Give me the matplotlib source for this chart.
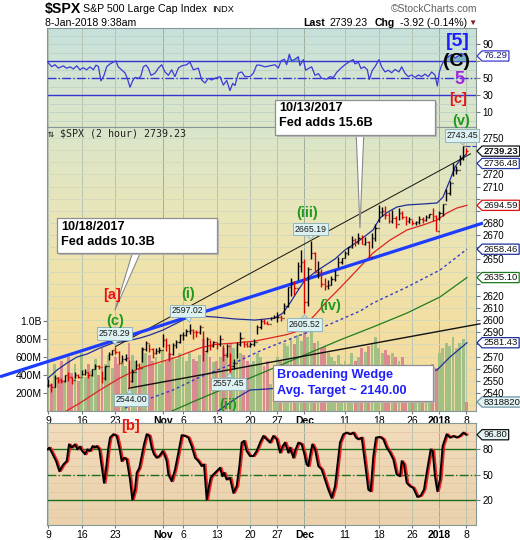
import numpy as np
import matplotlib
matplotlib.use('Agg')
import matplotlib.pyplot as plt
import matplotlib.transforms as mtransforms
from matplotlib.colors import LinearSegmentedColormap
from matplotlib.patches import Rectangle
from matplotlib.path import Path

plt.rcParams['font.family'] = ['Liberation Sans', 'DejaVu Sans']

W, H = 520, 540

# x axis: trading-day index, 0 = 9-Oct-2017
tick_days = [0, 5, 10, 17, 20, 25, 30, 34, 38, 44, 49, 54, 58, 62]
tick_labels = ['9', '16', '23', 'Nov', '6', '13', '20', '27', 'Dec', '11', '18', '26', '2018', '8']
month_ticks = ['Nov', 'Dec', '2018']

# price bars, two per session (last one = 8-Jan morning)
bar_lo = [2545, 2541, 2545, 2548, 2548, 2549, 2550, 2547.2, 2552.1, 2552,
          2554.6, 2555, 2552, 2554, 2559.4, 2559.5, 2547.9, 2551, 2567, 2571,
          2572, 2564.3, 2565.6, 2566, 2544, 2549, 2559.8, 2559.8, 2565.9, 2575,
          2574, 2568.7, 2572.3, 2573, 2578, 2574.9, 2566.2, 2571, 2576.8, 2581,
          2584, 2587, 2589, 2584.4, 2586, 2589, 2566.1, 2574, 2575.6, 2578,
          2576, 2579, 2566.6, 2570, 2557.45, 2560, 2569.2, 2579, 2578, 2577.7,
          2578.2, 2579, 2588.4, 2593, 2596.5, 2596.5, 2600.5, 2601.5, 2598.9, 2599,
          2605.4, 2611, 2620.3, 2621, 2633.1, 2640, 2605.52, 2612, 2650, 2639,
          2635, 2627.7, 2624.75, 2626, 2628.7, 2632, 2644.1, 2646, 2651.5, 2654,
          2659.8, 2661, 2663, 2662.85, 2662, 2652, 2659.1, 2665, 2680.7, 2686,
          2683, 2680.3, 2680, 2676.1, 2682.4, 2683, 2678.1, 2680, 2678, 2678,
          2678.9, 2680, 2681.9, 2684, 2682, 2673.6, 2682.4, 2686, 2697.8, 2703,
          2719.1, 2720, 2727.9, 2732, 2736.5]
bar_hi = [2551.8, 2548, 2555.2, 2553, 2552, 2555.2, 2557, 2553, 2557.6, 2556,
          2559, 2559.7, 2557, 2559.7, 2564.1, 2563, 2558, 2562.4, 2574, 2575.4,
          2578.29, 2575, 2571, 2572.2, 2567.4, 2560, 2567.1, 2565, 2578, 2583,
          2580, 2577, 2577, 2578.1, 2588.4, 2585, 2580, 2581.1, 2584, 2588.4,
          2590, 2593, 2597.02, 2593, 2592, 2596, 2591.4, 2586, 2583.5, 2583,
          2582, 2587.7, 2579.7, 2580, 2572.7, 2568, 2582, 2590.4, 2583, 2582,
          2582, 2584.6, 2596, 2601.2, 2600.9, 2599, 2603, 2604.2, 2606.4, 2604,
          2614, 2627.7, 2634.9, 2632, 2648, 2657.7, 2650.6, 2644, 2665.19, 2656,
          2648.7, 2642, 2634.4, 2633, 2636, 2641, 2651.65, 2651.6, 2657, 2660.3,
          2669.7, 2668, 2671.9, 2670, 2668.1, 2665, 2672, 2679.6, 2694.97, 2693,
          2694.2, 2689, 2691, 2686, 2692.6, 2690, 2685.4, 2685, 2682.7, 2682,
          2685.6, 2685, 2687, 2687.7, 2692.1, 2687, 2690, 2695.9, 2708, 2714.4,
          2729.3, 2727, 2736, 2743.45, 2742]
bar_close = [2547, 2544.7, 2552, 2550.6, 2550, 2555.2, 2553, 2550.9, 2555, 2553.2,
             2556, 2557.6, 2555, 2559.4, 2562, 2561.3, 2552, 2562.1, 2572, 2575.2,
             2574, 2565, 2568, 2569.1, 2550, 2557.2, 2563, 2560.4, 2576, 2581.1,
             2576, 2572.8, 2575, 2575.3, 2584, 2579.4, 2572, 2579.9, 2582, 2587.8,
             2588, 2591.1, 2592, 2590.6, 2590, 2594.4, 2575, 2584.6, 2579, 2582.3,
             2580, 2584.8, 2571, 2578.9, 2562, 2564.6, 2580, 2585.6, 2580, 2578.85,
             2580, 2582.1, 2594, 2599, 2598, 2597.1, 2602, 2602.4, 2603, 2601.4,
             2612, 2627, 2631, 2626.1, 2645, 2647.6, 2615, 2642.2, 2655, 2639.4,
             2640, 2629.6, 2628, 2629.3, 2634, 2637, 2648, 2651.5, 2655, 2660,
             2666, 2664.1, 2668, 2662.85, 2664, 2652, 2668, 2675.8, 2689, 2690.2,
             2687, 2681.5, 2684, 2679.25, 2688, 2684.6, 2682, 2683.3, 2680, 2680.5,
             2683, 2682.6, 2685, 2687.5, 2686, 2673.6, 2688, 2695.8, 2705, 2713.1,
             2724, 2724, 2733, 2743.2, 2739.23]
volume_m = [480, 300, 520, 380, 560, 350, 600, 420, 520, 330,
            640, 380, 520, 450, 580, 400, 700, 520, 620, 480,
            600, 520, 560, 500, 760, 620, 560, 480, 700, 640,
            620, 560, 600, 520, 680, 560, 640, 600, 580, 640,
            600, 560, 640, 580, 560, 620, 800, 650, 600, 540,
            560, 600, 700, 640, 760, 700, 720, 640, 620, 560,
            520, 560, 640, 600, 500, 560, 300, 280, 600, 560,
            760, 720, 800, 740, 840, 780, 900, 820, 880, 760,
            780, 700, 720, 640, 600, 560, 620, 520, 560, 520,
            640, 560, 600, 700, 660, 720, 760, 820, 700, 640,
            680, 620, 640, 600, 560, 600, 480, 440, 420, 400,
            440, 420, 380, 400, 520, 480, 640, 700, 760, 720,
            820, 700, 760, 800, 100]

# overlays in the price panel (day, price)
ma_navy_day = [-0.15, 1.33, 2.81, 4.30, 5.78, 7.70, 9.63, 11.70, 13.63, 15.11,
               17.04, 18.81, 20.59, 22.52, 24.74, 27.70, 30.67, 33.63, 34.81, 35.85,
               36.89, 38.07, 40.00, 42.52, 44.00, 46.22, 48.15, 49.19, 50.37, 51.70,
               53.19, 55.56, 57.63, 58.52, 59.56, 60.30, 61.04, 61.93]
ma_navy_val = [2551.5, 2558.9, 2564.7, 2569.7, 2572.1, 2577.1, 2581.2, 2582.8, 2585.3, 2587.8,
               2591.9, 2596.8, 2601.8, 2603.4, 2602.6, 2601.0, 2600.1, 2601.8, 2605.9, 2614.1,
               2623.2, 2633.1, 2641.3, 2650.4, 2657.8, 2666.0, 2674.3, 2684.2, 2689.1, 2693.2,
               2694.9, 2695.7, 2696.5, 2701.4, 2715.5, 2726.2, 2731.9, 2736.5]
ma_red_day = [2.52, 4.74, 7.70, 10.67, 13.63, 16.15, 19.11, 22.52, 24.74, 27.70, 30.67, 35.11, 36.59,
              38.07, 39.56, 41.48, 43.26, 45.78, 48.15, 50.67, 53.19, 55.56, 57.63, 59.11, 60.59, 62.07]
ma_red_val = [2524.6, 2531.8, 2542.5, 2552.4, 2560.6, 2564.7, 2569.7, 2577.1, 2580.0, 2581.2, 2582.8,
              2587.8, 2590.2, 2596.0, 2604.3, 2616.6, 2626.5, 2641.3, 2655.3, 2666.0, 2674.3, 2678.4,
              2682.5, 2688.3, 2692.4, 2694.6]
ma_dot_day = [11.40, 13.63, 18.52, 22.52, 26.96, 31.70, 36.59, 41.48, 46.22, 48.15, 53.19, 58.07, 62.07]
ma_dot_val = [2527.6, 2532.6, 2542.5, 2553.2, 2563.1, 2575.4, 2586.1, 2596.0, 2607.5, 2614.1,
              2627.3, 2641.3, 2658.5]
ma_green_day = [18.37, 22.07, 26.67, 31.70, 36.59, 43.26, 48.15, 53.19, 58.07, 62.07]
ma_green_val = [2525.2, 2534.2, 2544.9, 2556.5, 2568.0, 2583.7, 2594.4, 2605.9, 2619.1, 2635.1]
ma_low_day = [25.19, 28.15, 29.93, 32.44, 44.74, 57.63, 59.56, 62.07]
ma_low_val = [2525.2, 2536.7, 2542.5, 2543.3, 2549.1, 2558.9, 2569.7, 2581.4]

trend_blue_day, trend_blue_val = [-7.11, 64.44], [2553.4, 2680.0]
trend_top_day, trend_top_val = [10.0, 62.6], [2578.29, 2737.0]
trend_low_day, trend_low_val = [12.0, 64.0], [2544.0, 2597.0]

# RSI (top panel)
rsi_day = [-0.10, 0.55, 1.04, 1.53, 2.27, 2.77, 3.26, 3.75, 4.25, 4.74,
           5.23, 5.73, 6.22, 6.72, 7.11, 7.46, 7.85, 8.30, 8.69, 9.19,
           9.78, 10.07, 10.40, 10.90, 11.40, 11.75, 12.15, 12.54, 12.89, 13.38,
           13.73, 14.12, 14.52, 14.86, 15.26, 15.85, 16.35, 16.84, 17.33, 17.83,
           18.32, 18.81, 19.31, 19.80, 20.54, 21.04, 21.53, 22.27, 22.77, 23.26,
           23.75, 24.25, 24.74, 25.48, 25.98, 26.47, 26.96, 27.36, 27.70, 28.20,
           28.69, 29.19, 29.93, 30.42, 30.91, 31.41, 32.15, 32.89, 33.63, 34.12,
           34.52, 35.01, 35.36, 35.75, 36.10, 36.59, 37.09, 37.33, 37.83, 38.17,
           38.57, 39.06, 39.56, 40.05, 40.54, 41.28, 41.78, 42.27, 42.77, 43.41,
           44.00, 44.64, 45.23, 45.48, 45.98, 46.37, 46.86, 47.31, 47.60, 48.05,
           48.44, 49.04, 49.43, 49.93, 50.42, 50.91, 51.41, 52.00, 52.40, 52.89,
           53.38, 53.88, 54.37, 54.86, 55.36, 55.85, 56.35, 56.84, 57.33, 57.68,
           57.98, 58.32, 58.81, 59.31, 59.80, 60.30, 60.79, 61.19, 61.53, 62.00]
rsi_val = [69.5, 63.7, 66.0, 62.0, 64.7, 61.8, 63.5, 61.0, 64.7, 60.0,
           62.5, 60.0, 63.5, 60.0, 65.5, 64.0, 47.0, 53.5, 63.5, 67.0,
           69.5, 70.5, 63.5, 60.0, 56.5, 50.0, 39.5, 47.0, 51.0, 50.0,
           52.0, 63.5, 65.5, 62.0, 53.5, 56.0, 62.0, 66.0, 57.5, 53.5,
           60.0, 52.0, 62.0, 64.7, 66.0, 69.0, 60.0, 62.0, 48.0, 44.5,
           50.0, 48.0, 50.0, 52.0, 42.0, 47.5, 35.6, 44.0, 41.5, 56.0,
           57.5, 52.0, 52.0, 56.0, 65.5, 65.5, 63.5, 64.7, 66.0, 62.0,
           70.5, 72.4, 66.0, 78.3, 70.5, 72.4, 75.4, 65.0, 72.0, 59.5,
           61.5, 63.5, 53.5, 55.5, 50.0, 49.0, 52.0, 51.0, 57.0, 62.0,
           66.0, 69.5, 72.0, 67.0, 69.0, 61.5, 63.5, 60.0, 48.5, 59.5,
           63.5, 72.0, 63.5, 57.5, 59.5, 56.5, 60.5, 57.5, 63.5, 56.0,
           52.0, 54.0, 51.0, 54.0, 52.0, 55.0, 52.0, 57.5, 54.0, 41.0,
           57.5, 65.5, 72.4, 75.5, 78.0, 74.0, 76.5, 79.0, 78.5, 76.3]

# oscillator (bottom panel)
osc_day = [-0.05, 0.20, 0.69, 1.19, 1.68, 2.27, 2.77, 3.11, 3.51, 4.00,
           4.35, 4.74, 4.99, 5.48, 5.83, 6.22, 6.62, 6.96, 7.21, 7.60,
           7.95, 8.30, 8.59, 8.94, 9.19, 9.68, 10.17, 10.57, 10.91, 11.26,
           11.65, 11.90, 12.15, 12.49, 12.89, 13.14, 13.53, 13.88, 14.22, 14.62,
           15.01, 15.36, 15.70, 16.10, 16.49, 16.99, 17.33, 17.58, 17.83, 18.32,
           18.82, 19.31, 19.80, 20.30, 20.79, 21.28, 21.78, 22.27, 22.77, 23.11,
           23.51, 23.75, 24.10, 24.49, 24.99, 25.48, 25.83, 26.07, 26.47, 26.96,
           27.46, 27.95, 28.35, 28.69, 29.04, 29.43, 29.93, 30.42, 30.91, 31.41,
           31.90, 32.40, 32.89, 33.38, 33.88, 34.37, 34.77, 35.11, 35.60, 35.85,
           36.35, 36.59, 37.09, 37.58, 37.93, 38.32, 38.57, 38.81, 39.16, 39.56,
           40.05, 40.54, 41.04, 41.53, 42.02, 42.52, 42.86, 43.26, 43.75, 44.25,
           44.74, 45.23, 45.63, 45.98, 46.47, 46.96, 47.46, 47.80, 48.20, 48.59,
           49.19, 49.68, 50.17, 50.67, 51.16, 51.65, 52.15, 52.40, 52.74, 53.14,
           53.63, 54.12, 54.72, 55.21, 55.70, 56.10, 56.69, 56.99, 57.33, 57.68,
           58.07, 58.47, 59.06, 59.56, 60.05, 60.54, 61.04, 61.53, 61.93]
osc_val = [79.6, 81.6, 73.7, 65.8, 53.9, 61.8, 65.8, 85.5, 81.6, 85.5,
           79.6, 82.8, 78.4, 73.7, 79.6, 77.6, 83.5, 81.6, 83.5, 79.6,
           59.9, 40.1, 55.9, 81.6, 93.4, 97.4, 95.4, 81.6, 65.8, 69.7,
           67.8, 55.9, 44.1, 20.4, 32.2, 52.0, 57.9, 71.7, 85.5, 97.4,
           95.4, 81.6, 73.7, 69.7, 71.7, 77.6, 71.7, 65.8, 50.0, 42.1,
           55.9, 75.7, 96.2, 95.4, 93.4, 83.5, 69.7, 65.8, 59.9, 61.8,
           20.4, 32.2, 46.1, 50.0, 53.9, 57.9, 48.0, 52.0, 44.1, 46.1,
           28.3, 36.2, 59.9, 87.5, 89.5, 77.6, 71.7, 71.7, 77.6, 87.5,
           95.4, 91.4, 87.5, 95.4, 91.4, 75.7, 83.5, 87.5, 75.7, 81.6,
           69.7, 77.6, 87.5, 85.5, 75.7, 61.8, 59.9, 71.7, 85.5, 79.6,
           59.9, 55.9, 44.1, 32.2, 22.4, 36.2, 59.9, 87.5, 97.4, 99.3,
           97.4, 99.3, 93.4, 91.4, 93.4, 63.8, 32.2, 30.3, 71.7, 93.4,
           94.2, 91.4, 81.6, 75.7, 67.8, 50.0, 48.0, 65.8, 61.8, 40.1,
           36.2, 34.2, 23.6, 25.1, 32.2, 52.0, 79.6, 77.6, 48.0, 30.3,
           44.1, 83.5, 97.4, 93.4, 95.4, 93.4, 95.4, 99.3, 96.8]

last_price = 2739.23
price_tags = [(2736.48, '#2a3aa8'), (2694.59, '#dd1111'), (2658.46, '#1f2f99'),
              (2635.10, '#1c7a1c'), (2581.43, '#1f2f99')]
last_rsi = 76.29
last_osc = 96.80
last_volume = 8318820

# axis labels that the value tags cover in the reference
hidden_price_labels = [2740, 2730, 2700, 2690, 2660, 2640, 2630, 2580]

XLIM = (-0.148, 63.41)
BLUE_LINE = '#3434d2'
GREEN = '#1c6e1c'


def box_px(top, bottom):
    return [47 / W, 1 - bottom / H, 429 / W, (bottom - top) / H]


def gradient(ax, colors):
    cmap = LinearSegmentedColormap.from_list('bg', colors)
    ax.imshow(np.linspace(0, 1, 256).reshape(-1, 1), cmap=cmap, aspect='auto',
              extent=[0, 1, 0, 1], transform=ax.transAxes, zorder=0)


def style_axes(ax):
    for s in ax.spines.values():
        s.set_color('#879795')
        s.set_linewidth(0.8)
    for d, lab in zip(tick_days, tick_labels):
        ax.axvline(d, color='#9fae9d' if lab in month_ticks else '#b7c3b0', lw=0.7, zorder=0.5)


def tag_shape(x0, y0, width, height, mutation_size):
    pad = 0.15 * mutation_size
    h = mutation_size * 1.08
    cy = y0 + height / 2
    xl, xr = x0 - pad, x0 + width + pad
    yb, yt = cy - h / 2, cy + h / 2
    verts = [(xl, yb), (xr, yb), (xr, yt), (xl, yt), (xl - h / 2, cy), (xl, yb)]
    return Path(verts, closed=True)


def tag(ax, val, text, ec, fc='white', weight='normal', dy=0, tc='#111111'):
    tr = mtransforms.blended_transform_factory(ax.transAxes, ax.transData)
    ax.annotate(text, xy=(1, val), xycoords=tr, xytext=(7.5, dy), textcoords='offset pixels',
                ha='left', va='center', fontsize=6.8, color=tc, fontweight=weight,
                bbox=dict(boxstyle=tag_shape, fc=fc, ec=ec, lw=0.9),
                annotation_clip=False, zorder=10)


def ftext(x, y, s, **kw):
    fig.text(x / W, 1 - y / H, s, **kw)


def note(x0, y0, x1, y1):
    shadow = Rectangle(((x0 + 2) / W, 1 - (y1 + 2) / H), (x1 - x0) / W, (y1 - y0) / H,
                       transform=fig.transFigure, fc='#b8b8b8', ec='none', zorder=5)
    panel = Rectangle((x0 / W, 1 - y1 / H), (x1 - x0) / W, (y1 - y0) / H,
                      transform=fig.transFigure, fc='white', ec='#8f8f8f', lw=0.9, zorder=5.1)
    fig.add_artist(shadow)
    fig.add_artist(panel)


fig = plt.figure(figsize=(W / 100, H / 100), dpi=100)
fig.patch.set_facecolor('white')

ax_r = fig.add_axes(box_px(28, 127))
ax_v = fig.add_axes(box_px(127, 411))
ax_p = fig.add_axes(box_px(127, 411), sharex=ax_v)
ax_b = fig.add_axes(box_px(423, 525))

# ---------------- RSI panel ----------------
gradient(ax_r, ['#c6e1dc', '#d4e4d2', '#dde7c8'])
style_axes(ax_r)
for v in range(0, 110, 10):
    ax_r.axhline(v, color='#bcd2c8', lw=0.6, zorder=0.6)
ax_r.axhline(70, color=BLUE_LINE, lw=1.0, zorder=2)
ax_r.axhline(30, color=BLUE_LINE, lw=1.0, zorder=2)
ax_r.axhline(50, color=BLUE_LINE, lw=1.0, ls='-.', zorder=2)
rv = np.array(rsi_val)
ax_r.fill_between(rsi_day, rv, 70, where=rv > 70, interpolate=True, color='#76b3c4', lw=0, zorder=2)
ax_r.plot(rsi_day, rsi_val, color='#3b3bd6', lw=0.9, zorder=3)
ax_r.set_xlim(XLIM)
ax_r.set_ylim(-7.3, 109.2)
ax_r.set_xticks([])
ax_r.yaxis.tick_right()
ax_r.set_yticks([10, 30, 50, 70, 90])
ax_r.set_yticklabels(['10', '30', '50', '', '90'])
ax_r.tick_params(axis='y', direction='out', length=3, pad=1.5, labelsize=7, color='#777777')
tag(ax_r, last_rsi, f'{last_rsi:.2f}', '#3a3ad0', tc='#1a1a66')

# ---------------- volume (behind price) ----------------
gradient(ax_v, ['#d9e5cb', '#e6e6bc', '#efe3ac', '#f3dea0', '#f3dca0'])
style_axes(ax_v)
for p in range(2530, 2760, 10):
    ax_v.plot(XLIM, [p, p], transform=ax_p.transData, color='#d3d8bb', lw=0.6, zorder=0.6)
bar_x = np.arange(len(bar_close)) * 0.5
closes = np.array(bar_close)
prev = np.r_[closes[0], closes[:-1]]
up = closes >= prev
vol_cols = np.where(up, '#a3bf83', '#d98b90')
ax_v.bar(bar_x, np.array(volume_m) * 1e6, width=0.42, color=vol_cols, lw=0, zorder=1)
ax_v.set_ylim(0, 3.156e9)
ax_v.set_yticks([2e8, 4e8, 6e8, 8e8, 1e9])
ax_v.set_yticklabels(['200M', '400M', '600M', '800M', '1.0B'])
ax_v.tick_params(axis='y', direction='out', length=3, pad=1, labelsize=7.5, color='#777777')
ax_v.set_xticks(tick_days)
ax_v.set_xticklabels(tick_labels)
ax_v.tick_params(axis='x', direction='out', length=2, pad=1.5, labelsize=7.5, color='#777777')
for t in ax_v.get_xticklabels():
    if t.get_text() in month_ticks:
        t.set_fontweight('bold')
tag(ax_v, last_volume * 12, f'{last_volume}', '#6b93a6', fc='#e4f3f3')

# ---------------- price panel ----------------
ax_p.patch.set_visible(False)
for s in ax_p.spines.values():
    s.set_visible(False)
ax_p.plot(ma_green_day, ma_green_val, color='#1f7d1f', lw=0.9, zorder=2)
ax_p.plot(ma_dot_day, ma_dot_val, color='#3a3ac8', lw=1.0, ls=(0, (2, 2)), zorder=2)
ax_p.plot(ma_low_day, ma_low_val, color='#1f2f99', lw=0.9, zorder=2)
ax_p.plot(ma_red_day, ma_red_val, color='#e02222', lw=0.9, zorder=2)
ax_p.plot(ma_navy_day, ma_navy_val, color='#1f2f99', lw=0.9, zorder=2)
ax_p.plot(trend_low_day, trend_low_val, color='#111111', lw=1.0, zorder=2.5, clip_on=False)
ax_p.plot(trend_top_day, trend_top_val, color='#111111', lw=0.7, zorder=2.5)
ax_p.plot(trend_blue_day, trend_blue_val, color='#1e3cff', lw=2.3, zorder=2.6,
          clip_on=False, solid_capstyle='butt')

bar_cols = np.where(up, '#000000', '#e00000')
ax_p.vlines(bar_x, bar_lo, bar_hi, colors=bar_cols, lw=1.0, zorder=3)
ax_p.hlines(prev, bar_x - 0.17, bar_x, colors=bar_cols, lw=1.0, zorder=3)
ax_p.hlines(closes, bar_x, bar_x + 0.17, colors=bar_cols, lw=1.0, zorder=3)
ax_p.plot([bar_x[-1], XLIM[1]], [max(bar_hi)] * 2, color='#2a3ad0', lw=0.8, ls='--', zorder=3,
          clip_on=False)

ax_p.set_xlim(XLIM)
ax_p.set_ylim(2525.2, 2759.1)
ax_p.tick_params(axis='x', bottom=False, labelbottom=False)
ax_p.yaxis.tick_right()
price_ticks = list(range(2540, 2751, 10))
ax_p.set_yticks(price_ticks)
ax_p.set_yticklabels(['' if v in hidden_price_labels else str(v) for v in price_ticks])
ax_p.tick_params(axis='y', direction='out', length=3, pad=1.5, labelsize=7, color='#777777')

for val, col in price_tags:
    dy = -9 if val == 2736.48 else 0
    tag(ax_p, val, f'{val:.2f}', col, dy=dy)
tag(ax_p, last_price, f'{last_price:.2f}', '#111111', weight='bold')


def price_label(i, use_hi, dx, dy):
    val = bar_hi[i] if use_hi else bar_lo[i]
    ax_p.annotate(f'{val:.2f}', xy=(bar_x[i], val), xytext=(dx, dy), textcoords='offset pixels',
                  ha='center', va='center', fontsize=6.3, color='#1a1a1a',
                  bbox=dict(boxstyle='square,pad=0.18', fc='#dcf1f1', ec='#93b4bb', lw=0.7),
                  arrowprops=dict(arrowstyle='wedge,tail_width=0.7', fc='#dcf1f1', ec='#93b4bb',
                                  lw=0.7, shrinkA=0, shrinkB=1),
                  zorder=8, annotation_clip=False)


price_label(20, True, -1, 13)      # 2578.29
price_label(42, True, -2, 13)      # 2597.02
price_label(78, True, -1, 12)      # 2665.19
price_label(76, False, 0, -11)     # 2605.52
price_label(24, False, 2, -11.5)   # 2544.00
price_label(54, False, -2, -12)    # 2557.45
price_label(123, True, -1, 10.5)   # 2743.45

# callout pointers
wedge = dict(arrowstyle='wedge,tail_width=0.55,shrink_factor=0.5', fc='white', ec='#8a8a8a',
             lw=0.8, shrinkA=0, shrinkB=0)
ax_p.annotate('', xy=(46.22, 2676.0), xytext=(360, H - 133), textcoords='figure pixels',
              arrowprops=wedge, annotation_clip=False, zorder=9)
ax_p.annotate('', xy=(9.93, 2608.4), xytext=(137, H - 251), textcoords='figure pixels',
              arrowprops=wedge, annotation_clip=False, zorder=9)

ax_p.text(26.7, 2530, '(ii)', color='#1f9a1f', fontsize=10.5, fontweight='bold',
          ha='center', va='center', zorder=6, clip_on=True)

# ---------------- oscillator panel ----------------
gradient(ax_b, ['#f1dcbc', '#eed6b3', '#ebd2ad'])
style_axes(ax_b)
for v in range(0, 110, 10):
    ax_b.axhline(v, color='#e3c8a6', lw=0.6, zorder=0.6)
ax_b.axhline(80, color=GREEN, lw=1.0, zorder=2)
ax_b.axhline(20, color=GREEN, lw=1.0, zorder=2)
ax_b.axhline(50, color=GREEN, lw=1.0, ls='-.', zorder=2)
shift = mtransforms.offset_copy(ax_b.transData, fig=fig, x=1.6, y=0, units='dots')
ax_b.plot(osc_day, osc_val, color='#ee2020', lw=1.4, zorder=3, transform=shift)
ax_b.plot(osc_day, osc_val, color='#000000', lw=1.4, zorder=4)
ax_b.set_xlim(XLIM)
ax_b.set_ylim(-9.4, 110.6)
ax_b.set_xticks(tick_days)
ax_b.set_xticklabels(tick_labels)
for t in ax_b.get_xticklabels():
    if t.get_text() in month_ticks:
        t.set_fontweight('bold')
ax_b.tick_params(axis='x', direction='out', length=2, pad=1.5, labelsize=7.5, color='#777777')
ax_b.yaxis.tick_right()
ax_b.set_yticks([20, 50, 80])
ax_b.tick_params(axis='y', direction='out', length=3, pad=1.5, labelsize=7, color='#777777')
tag(ax_b, last_osc + 2.2, '', '#ee2020')
tag(ax_b, last_osc, f'{last_osc:.2f}', '#111111', fc='#e4f3f3')

# ---------------- header ----------------
ftext(45, 9.5, r'\$SPX', fontsize=10.2, fontweight='bold', va='center')
ftext(83, 9.5, 'S&P 500 Large Cap Index', fontsize=7.7, va='center')
ftext(212, 10, 'INDX', fontsize=6.6, va='center')
ftext(45, 23, '8-Jan-2018 9:38am', fontsize=7.6, va='center')
ftext(477, 8.5, '\u00a9StockCharts.com', fontsize=7.5, color='#606060', va='center', ha='right')
ftext(303, 23, 'Last', fontsize=7.6, fontweight='bold', va='center')
ftext(330, 23, f'{last_price:.2f}', fontsize=7.6, va='center')
ftext(375, 23, 'Chg', fontsize=7.6, fontweight='bold', va='center')
ftext(400, 23, '-3.92 (-0.14%)', fontsize=7.6, va='center')
ftext(468, 23, '\u25bc', fontsize=6, color='#8b1a2a', va='center')
ftext(48, 134, '\u21c5 \\$SPX (2 hour) 2739.23', fontsize=7.2, family=['DejaVu Sans Mono'],
      va='center', color='#222222')

# wave labels
ftext(458, 41.5, '[5]', fontsize=14, fontweight='bold', color='#1e1eff', ha='center', va='center')
ftext(457, 62, '(C)', fontsize=14, fontweight='bold', color='#000000', ha='center', va='center')
ftext(459, 79, '5', fontsize=13, fontweight='bold', color='#a326dc', ha='center', va='center')
ftext(458, 99.5, '[c]', fontsize=10.5, fontweight='bold', color='#ee1111', ha='center', va='center')
ftext(461, 121.5, '(v)', fontsize=10.5, fontweight='bold', color='#1f9a1f', ha='center', va='center')
ftext(112, 295, '[a]', fontsize=10.5, fontweight='bold', color='#ee1111', ha='center', va='center')
ftext(188, 294, '(i)', fontsize=10.5, fontweight='bold', color='#1f9a1f', ha='center', va='center')
ftext(115, 321, '(c)', fontsize=10.5, fontweight='bold', color='#1f9a1f', ha='center', va='center')
ftext(307, 213, '(iii)', fontsize=10.5, fontweight='bold', color='#1f9a1f', ha='center', va='center')
ftext(330, 306, '(iv)', fontsize=10.5, fontweight='bold', color='#1f9a1f', ha='center', va='center')
ftext(130.5, 426, '[b]', fontsize=10.5, fontweight='bold', color='#ee1111', ha='center', va='center')

# note boxes
note(275, 100, 435, 135)
ftext(279, 108, '10/13/2017', fontsize=9.2, fontweight='bold', va='center', zorder=6)
ftext(279, 123.5, 'Fed adds 15.6B', fontsize=9.2, fontweight='bold', va='center', zorder=6)
note(57, 218, 217, 253)
ftext(61, 226.5, '10/18/2017', fontsize=9.2, fontweight='bold', va='center', zorder=6)
ftext(61, 242, 'Fed adds 10.3B', fontsize=9.2, fontweight='bold', va='center', zorder=6)
note(273, 365, 433, 401)
ftext(277, 375, 'Broadening Wedge', fontsize=9.2, fontweight='bold', color='#2020ff',
      va='center', zorder=6)
ftext(277, 391, 'Avg. Target ~ 2140.00', fontsize=9.2, fontweight='bold', color='#2020ff',
      va='center', zorder=6)

fig.savefig('out.png', dpi=100, facecolor='white')
